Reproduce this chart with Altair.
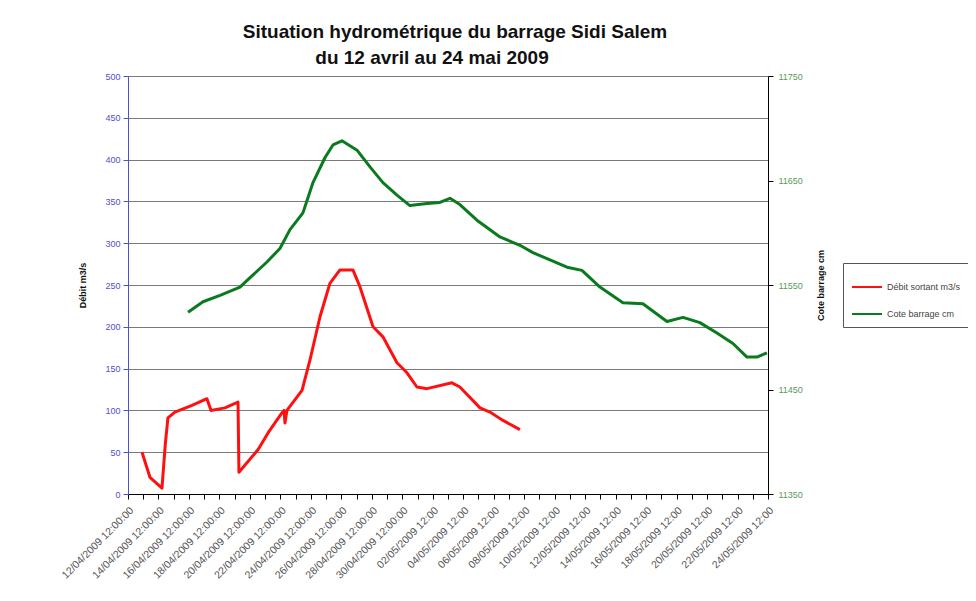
import json
import altair as alt
import pandas as pd

# Débit sortant (m3/s) — day offset from 12/04/2009 12:00
red_day = [0.92, 1.44, 2.23, 2.45, 2.62, 3.08, 4.20, 5.18, 5.45, 6.36, 7.22, 7.28,
           8.53, 9.19, 10.10, 10.24, 10.30, 10.43, 11.42, 11.94, 12.60, 13.25, 13.91,
           14.76, 15.22, 16.08, 16.73, 17.65, 18.31, 18.96, 19.62, 21.26, 21.78,
           23.10, 23.75, 24.61, 25.72]
red_val = [50, 20, 7, 60, 91, 98, 106, 114, 100, 103, 110, 26,
           53, 73, 97, 100, 85, 100, 124, 160, 212, 252, 268,
           268, 248, 200, 188, 157, 145, 128, 126, 133, 128,
           103, 98, 88, 77]

# Cote barrage (cm)
green_day = [3.94, 4.92, 6.04, 7.35, 8.01, 9.12, 9.97, 10.63, 11.48, 12.14, 12.93,
             13.45, 14.04, 15.03, 15.88, 16.73, 17.65, 18.50, 19.62, 20.47, 21.13,
             21.78, 22.90, 24.41, 25.72, 26.57, 27.69, 28.81, 29.79, 30.97, 32.48,
             33.79, 35.37, 36.42, 37.53, 38.65, 39.70, 40.62, 41.27, 41.93]
green_cote = [11524, 11534, 11540, 11548, 11557, 11572, 11585, 11603, 11619, 11648, 11672,
              11684, 11688, 11679, 11663, 11648, 11636, 11626, 11628, 11629, 11633,
              11627, 11612, 11596, 11588, 11581, 11574, 11567, 11564, 11548, 11533,
              11532, 11515, 11519, 11514, 11504, 11494, 11481, 11481, 11485]

x_labels = ["12/04/2009 12:00:00", "14/04/2009 12:00:00", "16/04/2009 12:00:00",
            "18/04/2009 12:00:00", "20/04/2009 12:00:00", "22/04/2009 12:00:00",
            "24/04/2009 12:00:00", "26/04/2009 12:00:00", "28/04/2009 12:00:00",
            "30/04/2009 12:00:00", "02/05/2009 12:00", "04/05/2009 12:00",
            "06/05/2009 12:00", "08/05/2009 12:00", "10/05/2009 12:00",
            "12/05/2009 12:00", "14/05/2009 12:00", "16/05/2009 12:00",
            "18/05/2009 12:00", "20/05/2009 12:00", "22/05/2009 12:00",
            "24/05/2009 12:00"]

series_names = ["Débit sortant m3/s", "Cote barrage cm"]
series_colors = ["#ff1010", "#0a7a1e"]
title_lines = ["Situation hydrométrique du barrage Sidi Salem", "du 12 avril au 24 mai 2009"]

red_df = pd.DataFrame({"jour": red_day, "debit": red_val, "serie": series_names[0]})
green_df = pd.DataFrame({"jour": green_day, "cote": green_cote, "serie": series_names[1]})

label_expr = ("datum.value % 2 == 0 ? " + json.dumps(x_labels, ensure_ascii=False)
              + "[datum.value / 2] : ''")

x_enc = alt.X(
    "jour:Q",
    scale=alt.Scale(domain=[0, 42], nice=False, zero=False),
    axis=alt.Axis(values=list(range(43)), labelExpr=label_expr, labelAngle=-45,
                  grid=False, title=None, labelFontSize=10.5, labelColor="#555555",
                  domainColor="#000000", tickColor="#000000", tickSize=5,
                  labelPadding=6, labelOverlap=False, labelBound=False, labelFlush=False),
)

color_enc = alt.Color(
    "serie:N",
    scale=alt.Scale(domain=series_names, range=series_colors),
    legend=alt.Legend(title=None, orient="none", legendX=715, legendY=187,
                      strokeColor="#555555", padding=8,
                      symbolType="stroke", symbolStrokeWidth=2,
                      symbolSize=900, labelFontSize=9,
                      labelColor="#444444", rowPadding=6, labelLimit=200),
)

red = alt.Chart(red_df).mark_line(strokeWidth=3, strokeJoin="round").encode(
    x=x_enc,
    y=alt.Y("debit:Q",
            scale=alt.Scale(domain=[0, 500], nice=False),
            axis=alt.Axis(orient="left", values=list(range(0, 501, 50)),
                          title="Débit m3/s", titleX=-46, titleY=209, titleAngle=-90,
                          titleFontSize=9, titleFontWeight="bold", titleColor="#111111",
                          titleAlign="center", titleBaseline="middle",
                          labelFontSize=9, labelColor="#5050c8", labelPadding=3,
                          domainColor="#5050c8", tickColor="#5050c8", tickSize=5,
                          grid=True, gridColor="#7a7a7a", gridWidth=1.2)),
    color=color_enc,
)

green = alt.Chart(green_df).mark_line(strokeWidth=3, strokeJoin="round").encode(
    x=x_enc,
    y=alt.Y("cote:Q",
            scale=alt.Scale(domain=[11350, 11750], nice=False, zero=False),
            axis=alt.Axis(orient="right", values=[11350, 11450, 11550, 11650, 11750],
                          format="d",
                          title="Cote barrage cm", titleX=52, titleY=209, titleAngle=-90,
                          titleFontSize=9, titleFontWeight="bold", titleColor="#111111",
                          titleAlign="center", titleBaseline="middle",
                          labelFontSize=9, labelColor="#5a9a5a", labelPadding=5,
                          domainColor="#000000", tickColor="#000000", tickSize=5,
                          grid=False)),
    color=color_enc,
)

titles = alt.Chart(pd.DataFrame({"t": title_lines, "px": [327, 304], "py": [-44, -18]})).mark_text(
    fontSize=19, fontWeight="bold", color="#111111", baseline="middle", align="center"
).encode(
    text="t:N",
    x=alt.X("px:Q", scale=None),
    y=alt.Y("py:Q", scale=None),
)

chart = alt.layer(red, green, titles).resolve_scale(y="independent").properties(
    width=640, height=418, autosize="none",
    padding={"left": 120, "top": 68, "right": 200, "bottom": 99},
).configure(font="Liberation Sans").configure_view(stroke=None)

chart.save("out.html", embed_options={"renderer": "svg", "actions": False})
